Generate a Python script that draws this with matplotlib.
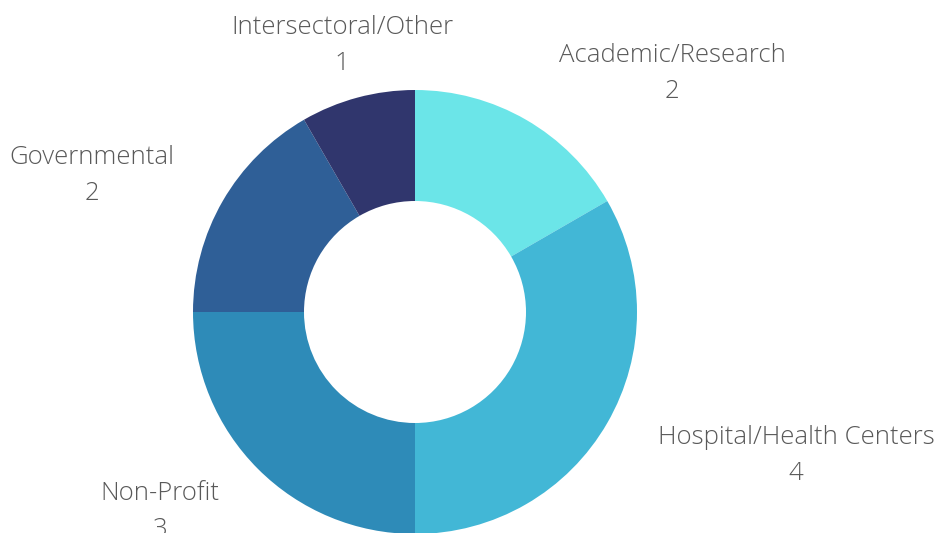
import matplotlib.pyplot as plt

labels = ["Academic/Research", "Hospital/Health Centers", "Non-Profit", "Governmental", "Intersectoral/Other"]
counts = [2, 4, 3, 2, 1]
colors = ["#6be5e8", "#42b7d6", "#2e8bb8", "#2f5f97", "#30366d"]

# label anchor points in pixel coords (x, y from top)
label_pos = [(672, 55), (796, 437), (160, 494), (92, 157), (342, 27)]

W, H = 937, 533
fig = plt.figure(figsize=(W / 100, H / 100), dpi=100)
ax = fig.add_axes([0, 0, 1, 1])
ax.set_xlim(0, W)
ax.set_ylim(0, H)
ax.set_aspect("equal")
ax.axis("off")

ax.pie(counts, colors=colors, startangle=90, counterclock=False,
       center=(415, H - 312), radius=222,
       wedgeprops=dict(width=111, linewidth=0))
ax.set_xlim(0, W)
ax.set_ylim(0, H)

for name, n, (x, y) in zip(labels, counts, label_pos):
    ax.text(x, H - y, name, ha="center", va="center", fontsize=18.5,
            family="Open Sans", weight="light", color="#595959")
    ax.text(x, H - y - 36, str(n), ha="center", va="center", fontsize=18.5,
            family="Open Sans", weight="light", color="#595959")

fig.savefig("out.png", dpi=100)
